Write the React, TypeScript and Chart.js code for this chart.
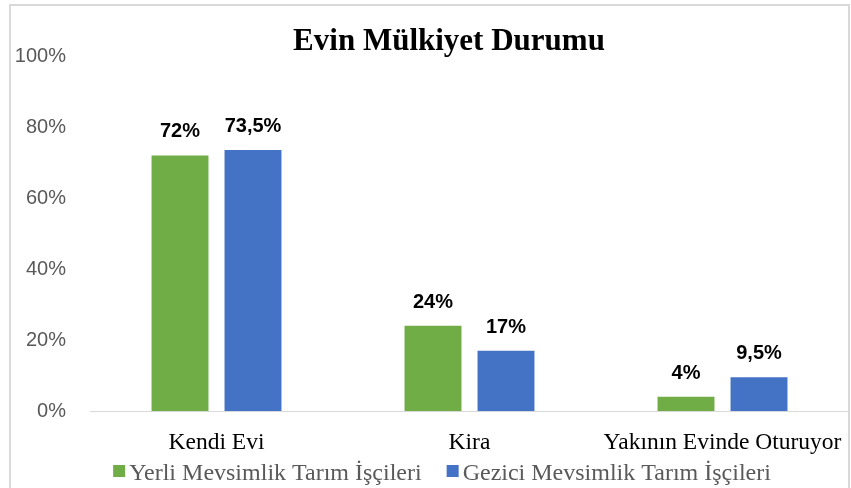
import React, { useEffect, useRef } from "react";
import { Chart, registerables } from "chart.js";

Chart.register(...registerables);

const title = "Evin Mülkiyet Durumu";
const categories = ["Kendi Evi", "Kira", "Yakının Evinde Oturuyor"];
const seriesNames = ["Yerli Mevsimlik Tarım İşçileri", "Gezici Mevsimlik Tarım İşçileri"];
const yerliValues = [72, 24, 4];
const geziciValues = [73.5, 17, 9.5];
const seriesColors = ["#70ad47", "#4472c4"];

const fmt = (v: number) => String(v).replace(".", ",") + "%";

const W = 851;
const H = 488;

export default function App() {
  const ref = useRef<HTMLCanvasElement | null>(null);

  useEffect(() => {
    document.body.style.margin = "0";
    const canvas = ref.current!;
    const borderPlugin = {
      id: "borderFrame",
      beforeDraw(chart: any) {
        const ctx = chart.ctx;
        ctx.save();
        ctx.fillStyle = "#ffffff";
        ctx.fillRect(0, 0, W, H);
        ctx.strokeStyle = "#d9d9d9";
        ctx.lineWidth = 2;
        ctx.strokeRect(10, 5, 839, 495);
        ctx.restore();
      },
    };
    const labelsPlugin = {
      id: "extras",
      afterDatasetsDraw(chart: any) {
        const ctx = chart.ctx;
        ctx.save();
        ctx.font = "bold 20px 'Liberation Sans', Arial, sans-serif";
        ctx.fillStyle = "#000000";
        ctx.textAlign = "center";
        ctx.textBaseline = "alphabetic";
        chart.data.datasets.forEach((ds: any, di: number) => {
          const meta = chart.getDatasetMeta(di);
          meta.data.forEach((el: any, i: number) => {
            ctx.fillText(fmt(ds.data[i]), el.x, el.y - 18);
          });
        });
        // title
        ctx.font = "bold 31px 'Liberation Serif', 'Times New Roman', serif";
        ctx.fillStyle = "#000000";
        ctx.fillText(title, 449, 50);
        // legend
        ctx.font = "24px 'Liberation Serif', 'Times New Roman', serif";
        const box = 12;
        const gapBoxText = 4;
        const gapItems = 25;
        const widths = chart.data.datasets.map((d: any) => ctx.measureText(d.label).width);
        const total = widths.reduce((a: number, w: number) => a + box + gapBoxText + w, 0) + gapItems * (widths.length - 1);
        let x = 442 - total / 2;
        ctx.textAlign = "left";
        chart.data.datasets.forEach((d: any, i: number) => {
          ctx.fillStyle = d.backgroundColor;
          ctx.fillRect(x, 465, box, box);
          ctx.fillStyle = "#595959";
          ctx.fillText(d.label, x + box + gapBoxText, 480);
          x += box + gapBoxText + widths[i] + gapItems;
        });
        ctx.restore();
      },
    };

    const chart = new Chart(canvas, {
      type: "bar",
      data: {
        labels: categories,
        datasets: [
          { label: seriesNames[0], data: yerliValues, backgroundColor: seriesColors[0] },
          { label: seriesNames[1], data: geziciValues, backgroundColor: seriesColors[1] },
        ],
      },
      options: {
        responsive: false,
        animation: false,
        events: [],
        layout: { padding: { left: 0, right: 2, top: 56, bottom: 0 } },
        datasets: {
          bar: { categoryPercentage: 0.577, barPercentage: 0.78 },
        } as any,
        plugins: {
          legend: { display: false },
          title: { display: false },
          tooltip: { enabled: false },
        },
        scales: {
          x: {
            grid: { display: false, drawTicks: false },
            border: { display: true, color: "#d9d9d9", width: 1 },
            ticks: {
              color: "#000000",
              padding: 18,
              maxRotation: 0,
              autoSkip: false,
              font: { family: "'Liberation Serif', 'Times New Roman', serif", size: 23.5 },
            },
            afterFit(s: any) {
              s.height = 77;
              s.paddingLeft = 0;
              s.paddingRight = 0;
            },
          },
          y: {
            min: 0,
            max: 100,
            grid: { display: false, drawTicks: false },
            border: { display: false },
            ticks: {
              stepSize: 20,
              padding: 24,
              color: "#595959",
              font: { family: "'Liberation Sans', Arial, sans-serif", size: 20 },
              callback: (v: any) => v + "%",
            },
            afterFit(s: any) {
              s.width = 90;
              s.paddingTop = 0;
              s.paddingBottom = 0;
            },
          },
        },
      },
      plugins: [borderPlugin, labelsPlugin],
    });
    return () => chart.destroy();
  }, []);

  return (
    <div style={{ width: W, height: H }}>
      <canvas ref={ref} width={W} height={H} style={{ display: "block" }} />
    </div>
  );
}
